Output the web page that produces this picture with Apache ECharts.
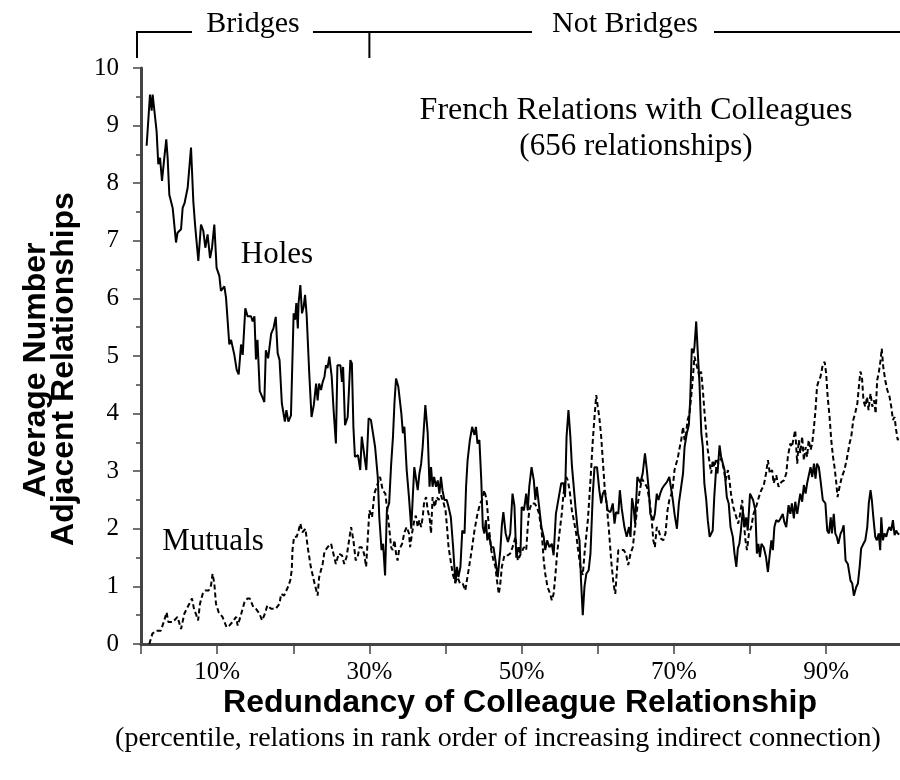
<!DOCTYPE html>
<html>
<head>
<meta charset="utf-8">
<script src="https://cdn.jsdelivr.net/npm/echarts@6/dist/echarts.min.js"></script>
<style>
  html, body { margin: 0; padding: 0; background: #fff; }
  #chart { width: 900px; height: 780px; }
</style>
</head>
<body>
<div id="chart"></div>
<script>
// holes (solid line), percentile -> average number
const holesX = [0.74,1.18,1.4,1.53,1.75,2.05,2.27,2.5,2.76,3.06,3.32,3.5,3.72,3.94,4.16,4.6,4.8,5.26,5.47,5.73,6.13,6.57,6.87,7.1,7.3,7.53,7.88,8.19,8.45,8.75,9.07,9.33,9.63,9.93,10.29,10.5,10.95,11.17,11.6,11.83,12.26,12.57,12.83,13.14,13.36,13.7,14.0,14.45,14.67,14.9,15.1,15.3,15.6,15.9,16.2,16.4,16.7,17.1,17.4,17.7,17.95,18.2,18.5,18.7,18.9,19.1,19.36,19.7,20.05,20.24,20.4,20.6,20.7,20.93,21.15,21.37,21.55,21.76,22.1,22.4,22.7,23.0,23.2,23.4,23.65,23.87,24.1,24.3,24.5,24.74,25.05,25.3,25.6,25.8,26.2,26.4,26.55,26.8,27.15,27.5,27.7,27.9,28.1,28.5,28.8,29.0,29.3,29.6,29.9,30.2,30.4,30.75,31.1,31.3,31.6,31.8,32.06,32.3,32.6,32.85,33.1,33.3,33.5,33.8,34.2,34.4,34.6,34.9,35.2,35.5,35.7,35.9,36.1,36.35,36.57,36.8,37.0,37.35,37.66,37.9,38.1,38.3,38.5,38.76,38.98,39.2,39.4,39.6,39.86,40.16,40.4,40.7,41.0,41.3,41.5,41.7,41.96,42.2,42.5,42.7,42.9,43.2,43.5,43.8,44.0,44.2,44.45,44.7,44.9,45.1,45.3,45.5,45.7,46.0,46.3,46.56,46.86,47.2,47.4,47.6,47.9,48.2,48.5,48.8,49.05,49.3,49.6,49.85,50.0,50.3,50.6,50.8,51.0,51.3,51.6,51.8,52.0,52.3,52.6,52.9,53.1,53.35,53.65,53.96,54.2,54.5,54.75,54.96,55.2,55.5,55.7,55.9,56.15,56.4,56.6,56.85,57.07,57.4,57.6,57.8,58.03,58.25,58.5,58.8,59.04,59.35,59.57,59.9,60.2,60.45,60.66,60.9,61.1,61.3,61.67,61.97,62.2,62.4,62.7,62.9,63.15,63.5,63.8,64.1,64.3,64.5,64.7,64.9,65.2,65.4,65.6,65.9,66.2,66.45,66.7,66.9,67.1,67.3,67.5,67.75,67.98,68.2,68.46,68.76,69.07,69.4,69.6,69.86,70.08,70.4,70.65,70.9,71.2,71.4,71.7,71.96,72.14,72.35,72.57,72.7,72.93,73.14,73.36,73.6,73.8,74.0,74.25,74.45,74.7,74.9,75.1,75.3,75.56,75.73,76.0,76.2,76.4,76.65,76.95,77.2,77.44,77.74,77.96,78.2,78.4,78.6,78.8,79.05,79.3,79.5,79.7,80.0,80.4,80.7,80.9,81.1,81.3,81.5,81.8,82.1,82.35,82.6,82.8,83.0,83.2,83.44,83.75,84.0,84.3,84.5,84.76,85.06,85.3,85.5,85.76,85.94,86.2,86.4,86.6,86.85,87.07,87.3,87.5,87.7,87.95,88.17,88.4,88.6,88.8,89.04,89.26,89.56,89.9,90.14,90.36,90.6,90.75,91.0,91.2,91.4,91.6,91.9,92.1,92.3,92.55,92.85,93.2,93.43,93.64,93.95,94.17,94.4,94.6,94.9,95.14,95.4,95.6,95.83,96.0,96.2,96.45,96.66,96.9,97.1,97.24,97.45,97.67,97.9,98.1,98.3,98.55,98.77,98.99,99.2,99.4,99.6];
const holesY = [8.65,9.54,9.26,9.54,9.52,8.9,8.33,8.44,8.04,8.44,8.76,8.44,7.8,7.8,7.57,6.97,7.14,7.2,7.57,7.66,7.92,8.62,7.69,7.28,7.28,6.65,7.28,7.17,6.88,7.11,6.7,6.88,7.28,6.53,6.39,6.13,6.21,6.01,5.2,5.28,5.02,4.76,4.68,5.2,5.02,5.83,5.69,5.69,5.6,5.69,4.94,5.28,4.39,4.3,4.2,5.1,4.96,5.39,5.48,5.68,5.05,4.93,4.18,4.2,3.86,4.06,3.86,3.97,5.74,5.63,5.92,5.48,5.92,6.23,5.74,5.86,6.06,5.71,4.7,3.94,4.15,4.52,4.23,4.52,4.41,4.55,4.64,4.84,4.79,4.99,4.64,4.06,3.48,4.84,4.84,4.55,4.81,3.8,3.94,4.93,4.87,3.77,3.25,3.28,3.02,3.6,3.31,3.02,3.92,3.89,3.92,3.42,2.9,2.2,1.63,1.74,1.19,2.32,2.45,3.1,3.6,4.2,4.61,4.47,4.0,3.66,3.77,3.02,2.55,2.0,2.55,3.07,3.07,2.67,2.96,3.13,3.42,4.15,3.66,2.73,3.07,2.73,2.9,2.73,2.84,2.61,2.9,2.67,2.5,2.5,2.38,2.2,1.68,1.05,1.34,1.16,1.34,1.97,1.92,2.73,3.19,3.54,3.77,3.63,3.77,3.48,3.54,2.84,2.03,1.92,2.15,1.8,1.92,1.68,1.68,1.45,1.16,1.63,2.06,2.29,1.92,1.77,1.92,2.61,2.4,1.5,1.68,1.57,2.38,2.32,2.61,2.32,2.73,3.07,2.84,2.5,2.73,2.38,2.03,1.86,1.63,1.8,1.68,1.74,1.54,2.26,2.26,2.61,2.79,2.79,2.55,3.6,4.06,3.6,3.1,3.07,2.38,1.92,1.8,1.1,0.5,0.99,1.22,1.28,1.57,2.61,3.07,3.07,2.67,2.44,2.61,2.67,2.5,2.32,2.29,2.44,2.09,2.29,2.26,2.67,2.35,2.03,1.86,2.03,1.86,2.53,2.38,2.09,2.9,2.93,2.8,2.96,3.31,3.02,2.67,2.26,2.2,2.15,2.26,2.61,2.5,2.61,2.7,2.76,2.81,2.9,2.73,2.5,2.26,2.0,2.44,2.47,2.96,3.42,3.66,3.8,4.23,5.13,5.05,5.16,5.6,5.05,4.53,3.66,3.42,2.79,2.5,2.15,1.86,1.83,1.97,2.55,3.07,2.96,3.45,3.25,3.28,3.02,2.55,2.44,2.03,1.86,1.57,1.34,1.66,1.74,1.97,2.32,2.03,2.2,1.97,2.61,2.5,2.32,1.57,1.74,1.51,1.74,1.68,1.51,1.25,1.57,1.8,1.63,2.03,2.15,2.12,2.18,2.26,2.12,2.03,2.41,2.26,2.44,2.18,2.47,2.26,2.44,2.61,2.47,2.76,2.61,2.79,2.81,3.07,2.9,3.13,2.87,3.13,3.07,2.84,2.5,2.44,1.97,1.92,2.2,1.92,2.26,1.92,1.86,1.74,1.92,1.97,2.06,1.45,1.39,1.1,1.05,0.84,0.99,1.05,1.34,1.66,1.74,1.8,2.03,2.44,2.67,2.5,2.2,1.86,1.8,1.92,1.63,2.2,1.8,1.92,1.86,1.97,2.03,1.97,2.15,1.89,1.97,1.92,1.9];

// mutuals (dashed line)
const mutualsX = [1.09,1.5,1.97,2.6,3.06,3.36,3.6,4.15,4.8,5.26,5.7,6.35,6.7,7.0,7.2,7.5,7.75,8.1,8.45,8.9,9.2,9.4,9.63,9.85,10.2,10.7,11.25,11.6,12.0,12.5,12.7,13.05,13.6,14.0,14.3,14.75,15.1,15.55,15.9,16.2,16.6,17.1,17.7,18.2,18.4,18.8,19.3,19.6,19.8,19.9,20.1,20.45,20.7,20.93,21.2,21.6,21.9,22.3,22.8,23.2,23.4,23.86,24.1,24.5,24.97,25.27,25.6,25.97,26.4,26.7,27.0,27.4,27.6,27.9,28.2,28.46,28.7,29.0,29.3,29.57,29.8,30.0,30.35,30.65,31.1,31.4,31.75,31.95,32.1,32.4,32.6,32.85,33.06,33.3,33.5,33.7,33.9,34.3,34.6,34.9,35.2,35.35,35.6,35.9,36.1,36.35,36.57,36.8,37.0,37.2,37.45,37.66,37.9,38.1,38.3,38.6,38.85,39.1,39.4,39.7,40.0,40.2,40.4,40.6,40.95,41.26,41.6,41.9,42.26,42.6,42.8,43.1,43.5,43.8,44.2,44.55,44.8,45.1,45.4,45.7,46.0,46.3,46.56,46.7,47.0,47.2,47.4,47.74,48.2,48.5,48.8,49.2,49.5,49.9,50.3,50.6,50.8,51.0,51.3,51.7,52.0,52.3,52.65,52.9,53.1,53.4,53.75,53.96,54.2,54.45,54.66,54.96,55.27,55.5,55.85,56.06,56.3,56.6,56.85,57.16,57.37,57.6,57.8,58.03,58.3,58.7,59.04,59.35,59.57,59.8,60.0,60.2,60.45,60.66,60.9,61.2,61.5,61.76,62.06,62.3,62.55,62.7,63.07,63.4,63.7,64.0,64.3,64.6,64.9,65.2,65.5,65.8,66.1,66.45,66.8,67.05,67.3,67.5,67.75,68.0,68.3,68.6,68.9,69.16,69.4,69.7,69.86,70.08,70.3,70.5,70.7,70.96,71.2,71.4,71.6,71.8,72.05,72.27,72.5,72.7,72.93,73.14,73.36,73.58,73.8,74.0,74.25,74.45,74.7,74.9,75.1,75.3,75.56,75.8,76.2,76.5,76.8,77.1,77.3,77.5,77.8,78.2,78.45,78.7,78.97,79.2,79.4,79.6,79.86,80.16,80.46,80.8,81.16,81.47,81.8,82.1,82.35,82.6,82.9,83.1,83.44,83.75,84.1,84.45,84.76,84.97,85.28,85.5,85.76,85.94,86.2,86.4,86.6,86.85,87.07,87.3,87.5,87.7,87.95,88.17,88.4,88.6,88.8,89.04,89.26,89.5,89.8,90.0,90.2,90.45,90.67,90.9,91.1,91.3,91.5,91.76,92.06,92.4,92.77,93.07,93.3,93.56,93.8,94.1,94.3,94.5,94.7,94.9,95.14,95.37,95.57,95.83,96.06,96.3,96.5,96.7,96.9,97.15,97.3,97.5,97.76,98.03,98.33,98.55,98.77,98.99,99.2,99.4,99.6];
const mutualsY = [0.0,0.18,0.23,0.23,0.41,0.55,0.38,0.38,0.47,0.26,0.53,0.7,0.79,0.58,0.53,0.41,0.7,0.87,0.93,0.93,1.02,1.22,1.05,0.7,0.55,0.47,0.29,0.32,0.38,0.47,0.32,0.47,0.73,0.79,0.79,0.64,0.61,0.53,0.41,0.5,0.67,0.61,0.61,0.7,0.87,0.84,0.99,1.1,1.28,1.63,1.86,1.86,1.97,2.09,1.94,2.0,1.68,1.34,1.05,0.84,1.16,1.39,1.6,1.68,1.74,1.57,1.39,1.57,1.54,1.39,1.51,1.86,2.03,1.8,1.45,1.51,1.68,1.68,1.57,1.34,1.86,2.32,2.2,2.61,2.79,2.9,2.67,2.7,2.61,2.26,2.03,1.68,1.63,1.8,1.57,1.45,1.63,1.74,1.94,2.03,1.92,1.68,1.92,2.15,2.23,2.03,2.15,2.03,2.2,2.47,2.55,2.32,2.2,1.92,2.55,2.38,2.55,2.5,2.58,2.47,2.32,2.03,1.68,1.51,1.22,1.07,1.16,1.05,1.05,0.93,1.1,1.34,1.68,1.97,2.26,2.44,2.5,2.67,2.5,2.03,1.63,1.45,1.34,1.16,0.87,1.05,1.34,1.54,1.54,1.57,1.68,1.86,1.45,1.57,1.68,1.63,2.03,2.32,2.44,2.44,2.38,2.26,1.92,1.45,1.22,0.99,0.87,0.76,0.87,1.22,1.57,1.92,2.26,2.61,2.9,2.84,2.67,2.32,2.15,1.92,1.68,1.45,1.28,1.2,1.63,2.15,2.84,3.54,3.94,4.32,4.12,3.94,3.6,3.19,2.73,2.38,1.92,1.45,1.05,0.87,1.34,1.63,1.63,1.63,1.57,1.37,1.57,1.68,2.03,2.38,2.65,2.87,2.8,2.73,2.5,2.2,1.8,1.68,2.03,1.97,1.83,1.8,1.92,2.32,2.5,2.61,2.73,3.02,3.13,3.22,3.37,3.54,3.77,3.54,3.66,3.89,4.0,4.29,4.64,4.99,4.87,4.76,4.64,4.73,4.41,4.06,3.66,3.37,3.13,2.96,3.19,3.07,3.22,3.13,3.22,3.07,2.84,3.02,2.84,2.61,2.38,2.2,2.09,2.26,2.5,2.09,1.8,1.63,1.92,2.03,2.26,2.38,2.55,2.67,2.75,2.96,3.19,2.96,3.02,2.79,2.93,2.73,2.81,2.84,2.96,3.25,3.48,3.42,3.6,3.71,3.13,3.54,3.31,3.6,3.19,3.42,3.25,3.54,3.37,3.48,3.77,4.06,4.47,4.58,4.64,4.81,4.9,4.7,4.29,3.94,3.54,3.25,3.07,2.84,2.55,2.73,2.9,3.02,3.25,3.48,3.6,3.89,4.0,4.18,4.47,4.73,4.64,4.23,4.12,4.29,4.06,4.35,4.12,4.23,4.0,4.58,4.7,4.93,5.13,4.81,4.58,4.41,4.29,4.12,3.89,3.94,3.71,3.54,3.6];

// axis ticks: every 10%, labels only on the odd ones
const xTickValues = [0, 10, 20, 30, 40, 50, 60, 70, 80, 90];
const xLabelValues = [10, 30, 50, 70, 90];

const serif = '"Liberation Serif", "Times New Roman", serif';
const sans = '"Liberation Sans", Arial, sans-serif';

const chart = echarts.init(document.getElementById('chart'));

const pairs = (xs, ys) => xs.map((x, i) => [x, ys[i]]);

chart.setOption({
  animation: false,
  backgroundColor: '#fff',
  grid: { left: 141, top: 68, right: 0, bottom: 136 },
  xAxis: {
    type: 'value',
    min: 0,
    max: 99.7,
    interval: 10,
    axisLine: { lineStyle: { color: '#444', width: 3 } },
    axisTick: { length: 10, customValues: xTickValues, lineStyle: { color: '#444', width: 1.5 } },
    axisLabel: {
      margin: 16,
      color: '#000',
      fontFamily: serif,
      fontSize: 25,
      customValues: xLabelValues,
      formatter: v => v + '%'
    },
    splitLine: { show: false }
  },
  yAxis: {
    type: 'value',
    min: 0,
    max: 10,
    interval: 1,
    axisLine: { show: true, lineStyle: { color: '#444', width: 3 } },
    axisTick: { show: true, length: 8, lineStyle: { color: '#444', width: 1.5 } },
    minorTick: { show: true, splitNumber: 2, length: 5, lineStyle: { color: '#444', width: 1.5 } },
    axisLabel: { margin: 22, color: '#000', fontFamily: serif, fontSize: 25 },
    splitLine: { show: false }
  },
  series: [
    {
      name: 'Holes',
      type: 'line',
      data: pairs(holesX, holesY),
      showSymbol: false,
      lineStyle: { color: '#000', width: 2 }
    },
    {
      name: 'Mutuals',
      type: 'line',
      data: pairs(mutualsX, mutualsY),
      showSymbol: false,
      lineStyle: { color: '#000', width: 2, type: [5, 3] }
    }
  ]
});

// bracket above the plot, split at 30%
const x0 = 137;
const x30 = chart.convertToPixel({ xAxisIndex: 0 }, 30);
const hLine = (a, b) => ({ type: 'line', shape: { x1: a, y1: 32, x2: b, y2: 32 }, style: { stroke: '#000', lineWidth: 2 } });
const vLine = x => ({ type: 'line', shape: { x1: x, y1: 31, x2: x, y2: 58 }, style: { stroke: '#000', lineWidth: 2 } });
const txt = (t, x, y, font, extra) => Object.assign({
  type: 'text', x: x, y: y,
  style: { text: t, font: font, fill: '#000', align: 'center', verticalAlign: 'middle' }
}, extra || {});

chart.setOption({
  graphic: [
    hLine(x0, 192), hLine(313, 532), hLine(714, 900),
    vLine(x0), vLine(x30),
    txt('Bridges', 253, 24, '30px ' + serif),
    txt('Not Bridges', 625, 24, '30px ' + serif),
    txt('French Relations with Colleagues', 636, 111, '32px ' + serif),
    txt('(656 relationships)', 636, 147, '31px ' + serif),
    txt('Holes', 277, 255, '31px ' + serif),
    txt('Mutuals', 213, 542, '31px ' + serif),
    txt('Redundancy of Colleague Relationship', 520, 703, 'bold 32px ' + sans),
    txt('(percentile, relations in rank order of increasing indirect connection)', 498, 739, '28px ' + serif),
    txt('Average Number', 36, 370, 'bold 32px ' + sans, { rotation: Math.PI / 2 }),
    txt('Adjacent Relationships', 64, 369, 'bold 32px ' + sans, { rotation: Math.PI / 2 })
  ]
});
</script>
</body>
</html>
